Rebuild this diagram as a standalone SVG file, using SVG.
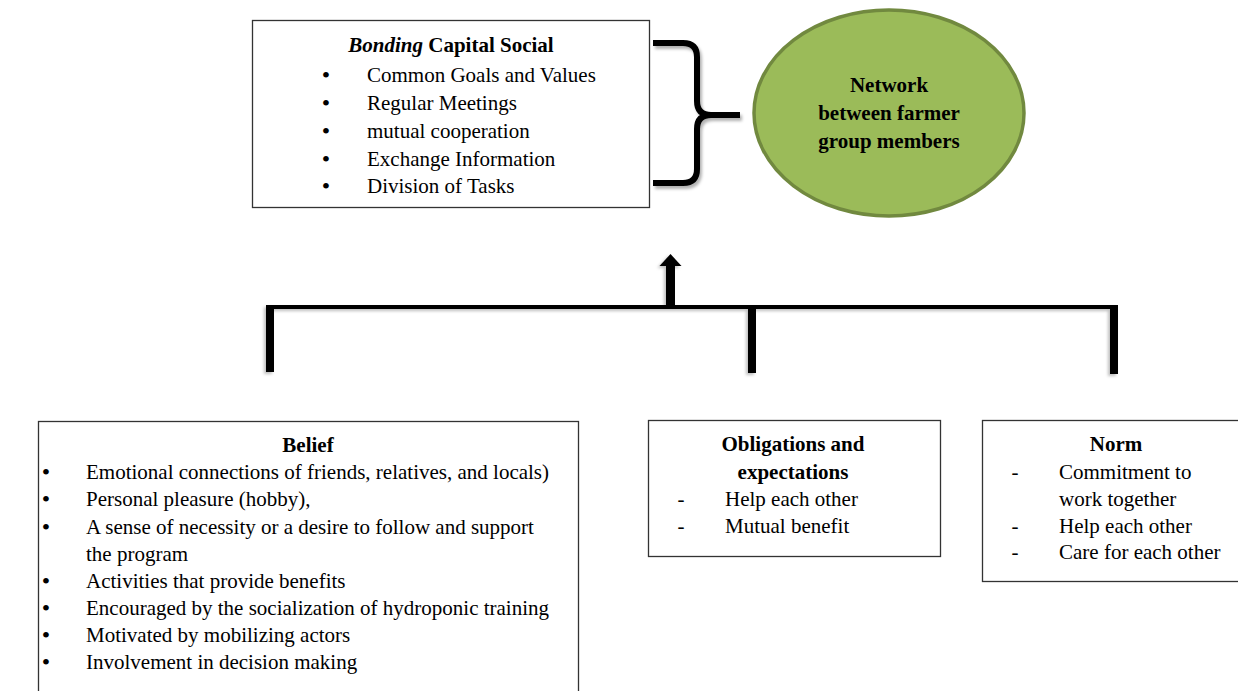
<svg xmlns="http://www.w3.org/2000/svg" width="1238" height="691" viewBox="0 0 1238 691">
  <style>
    text { font-family: "Liberation Serif", "Times New Roman", serif; font-size: 21px; fill: #000; }
    .b { font-weight: bold; }
    .c { text-anchor: middle; }
    .dot { text-anchor: middle; font-size: 24px; }
    .box { fill: #fff; stroke: #333; stroke-width: 1.3; }
    .bar { fill: none; stroke: #000; stroke-linecap: butt; }
  </style>
  <defs>
    <filter id="soft" x="-20%" y="-20%" width="140%" height="140%">
      <feDropShadow dx="-2" dy="2" stdDeviation="1.5" flood-color="#000" flood-opacity="0.25"/>
    </filter>
    <filter id="softR" x="-20%" y="-20%" width="140%" height="140%">
      <feDropShadow dx="2" dy="3" stdDeviation="1.8" flood-color="#000" flood-opacity="0.3"/>
    </filter>
  </defs>

  <!-- Bonding social capital box -->
  <g id="bonding">
    <rect class="box" x="252.5" y="20.5" width="397" height="187"/>
    <text class="b c" x="451" y="52"><tspan font-style="italic">Bonding</tspan> Capital Social</text>
    <text x="326" y="83" class="dot">•</text><text x="367" y="82">Common Goals and Values</text>
    <text x="326" y="111" class="dot">•</text><text x="367" y="110">Regular Meetings</text>
    <text x="326" y="139" class="dot">•</text><text x="367" y="138">mutual cooperation</text>
    <text x="326" y="167" class="dot">•</text><text x="367" y="166">Exchange Information</text>
    <text x="326" y="194" class="dot">•</text><text x="367" y="193">Division of Tasks</text>
  </g>

  <!-- Network ellipse -->
  <g id="network">
    <ellipse cx="889" cy="113" rx="135" ry="103" fill="#9BBB59" stroke="#71893F" stroke-width="3.5"/>
    <text class="b c" x="889" y="92">Network</text>
    <text class="b c" x="889" y="120">between farmer</text>
    <text class="b c" x="889" y="148">group members</text>
  </g>

  <!-- Belief box -->
  <g id="belief">
    <rect class="box" x="38.5" y="421.5" width="540" height="280"/>
    <text class="b c" x="308" y="452">Belief</text>
    <text x="46" y="480" class="dot">•</text><text x="86" y="479">Emotional connections of friends, relatives, and locals)</text>
    <text x="46" y="507" class="dot">•</text><text x="86" y="506">Personal pleasure (hobby),</text>
    <text x="46" y="535" class="dot">•</text><text x="86" y="534">A sense of necessity or a desire to follow and support</text>
    <text x="86" y="561">the program</text>
    <text x="46" y="589" class="dot">•</text><text x="86" y="588">Activities that provide benefits</text>
    <text x="46" y="616" class="dot">•</text><text x="86" y="615">Encouraged by the socialization of hydroponic training</text>
    <text x="46" y="643" class="dot">•</text><text x="86" y="642">Motivated by mobilizing actors</text>
    <text x="46" y="670" class="dot">•</text><text x="86" y="669">Involvement in decision making</text>
  </g>

  <!-- Obligations and expectations box -->
  <g id="obligations">
    <rect class="box" x="648.5" y="420.5" width="292" height="136"/>
    <text class="b c" x="793" y="451">Obligations and</text>
    <text class="b c" x="793" y="479">expectations</text>
    <text x="681" y="506" class="c">-</text><text x="725" y="506">Help each other</text>
    <text x="681" y="533" class="c">-</text><text x="725" y="533">Mutual benefit</text>
  </g>

  <!-- Norm box -->
  <g id="norm">
    <rect class="box" x="982.5" y="420.5" width="270" height="161"/>
    <text class="b c" x="1116" y="451">Norm</text>
    <text x="1015" y="479" class="c">-</text><text x="1059" y="479">Commitment to</text>
    <text x="1059" y="506">work together</text>
    <text x="1015" y="533" class="c">-</text><text x="1059" y="533">Help each other</text>
    <text x="1015" y="559" class="c">-</text><text x="1059" y="559">Care for each other</text>
  </g>

  <!-- Connectors: brace and branching bracket with arrow -->
  <g id="connectors">
    <path class="bar" filter="url(#softR)" stroke-width="6" stroke-linejoin="round"
          d="M653,43 H683 Q697,43 697,57 V101 Q697,115 711,115 H740 M711,115 Q697,115 697,129 V169 Q697,183 683,183 H653"/>
    <g filter="url(#soft)">
      <line class="bar" x1="266" y1="307" x2="1118" y2="307" stroke-width="4"/>
      <line class="bar" x1="270" y1="305" x2="270" y2="372" stroke-width="8"/>
      <line class="bar" x1="752" y1="307" x2="752" y2="373" stroke-width="8"/>
      <line class="bar" x1="1114" y1="305" x2="1114" y2="374" stroke-width="8"/>
      <rect x="666" y="264" width="9" height="45" fill="#000"/>
      <polygon points="659.5,266 681.5,266 670.5,254" fill="#000"/>
    </g>
  </g>
</svg>
